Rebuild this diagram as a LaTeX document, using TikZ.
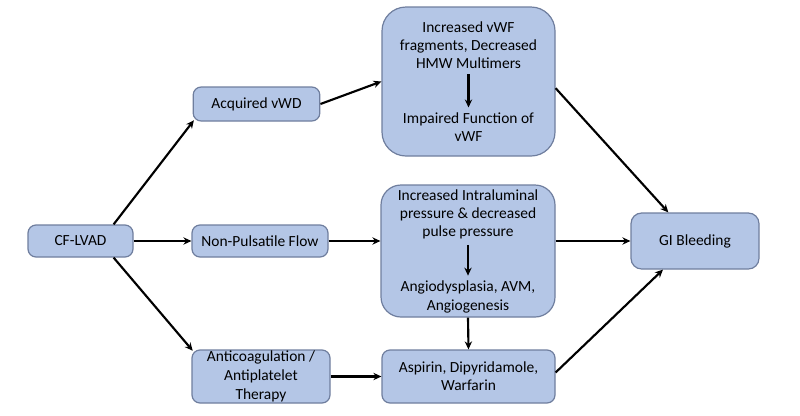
\documentclass[tikz,border=0pt]{standalone}
\usepackage{fontspec}
\setmainfont{Carlito}
\usepackage{tikz}
\usetikzlibrary{arrows.meta, positioning}
\tikzset{>={Stealth[length=6pt,width=5.5pt]}}
\usepackage{xcolor}
\definecolor{boxfill}{HTML}{B4C6E6}
\definecolor{boxline}{HTML}{6F7E9E}
\tikzset{
  stage/.style={draw=boxline, fill=boxfill, line width=0.9pt, rounded corners=6pt,
    align=center, inner sep=2pt, font=\fontsize{11.6}{13.6}\selectfont},
  txt/.style={align=center, inner sep=1pt, font=\fontsize{11.6}{13.6}\selectfont},
  link/.style={->, line width=1.6pt}
}

\begin{document}
\begin{tikzpicture}[x=0.75pt,y=-0.75pt]
			\useasboundingbox (0,0) rectangle (800,415);
			% left column
			\node [stage, minimum width=78.75pt, minimum height=24pt] (cf) at (80.5,241) {CF-LVAD};
			\node [stage, minimum width=95pt, minimum height=25.5pt] (vwd) at (256.5,104) {Acquired vWD};
			\node [stage, minimum width=102pt, minimum height=24pt] (npf) at (260,241) {Non-Pulsatile Flow};
			\node [stage, minimum width=103.5pt, minimum height=39.75pt, inner sep=0.5pt, font=\fontsize{11.6}{14.2}\selectfont] (anti) at (261,376.5) {Anticoagulation /\\Antiplatelet\\Therapy};
			% big boxes
			\node [stage, rounded corners=18pt, minimum width=129.75pt, minimum height=111.75pt] (top) at (468.5,81.5) {};
			\node [txt] (inc) at (468.5,45) {Increased vWF\\fragments, Decreased\\HMW Multimers};
			\node [txt] (imp) at (468.5,127.5) {Impaired Function of\\vWF};
			\node [stage, rounded corners=15pt, minimum width=130.5pt, minimum height=99pt] (mid) at (468,251) {};
			\node [txt] (ilp) at (468,214.5) {Increased Intraluminal\\pressure \& decreased\\pulse pressure};
			\node [txt] (avm) at (468,297) {Angiodysplasia, AVM,\\Angiogenesis};
			\node [stage, minimum width=129.75pt, minimum height=39.75pt] (asp) at (468.5,376.5) {Aspirin, Dipyridamole,\\Warfarin};
			\node [stage, rounded corners=8pt, minimum width=96pt, minimum height=42pt] (gi) at (695,241) {GI Bleeding};
			% arrows
			\draw [link] ([xshift=-15pt]cf.north east) -- ([xshift=1pt,yshift=1pt]vwd.south west);
			\draw [link] (cf.east) -- (npf.west);
			\draw [link] ([xshift=-15pt]cf.south east) -- ([xshift=1pt,yshift=-1pt]anti.north west);
			\draw [link] (vwd.east) -- (top.west);
			\draw [link] (npf.east) -- (npf.east -| mid.west);
			\draw [link] (anti.east) -- (asp.west);
			\draw [link, shorten <=3pt, shorten >=3pt] (inc) -- (imp);
			\draw [link, shorten <=3pt, shorten >=3pt] (ilp) -- (avm);
			\draw [link] (mid.south) -- (asp.north);
			\draw [link] ([yshift=-5pt]top.east) -- ([xshift=-20pt]gi.north);
			\draw [link] (mid.east |- gi.west) -- (gi.west);
			\draw [link] ([yshift=3pt]asp.east) -- ([xshift=-24pt]gi.south);
		\end{tikzpicture}
\end{document}
